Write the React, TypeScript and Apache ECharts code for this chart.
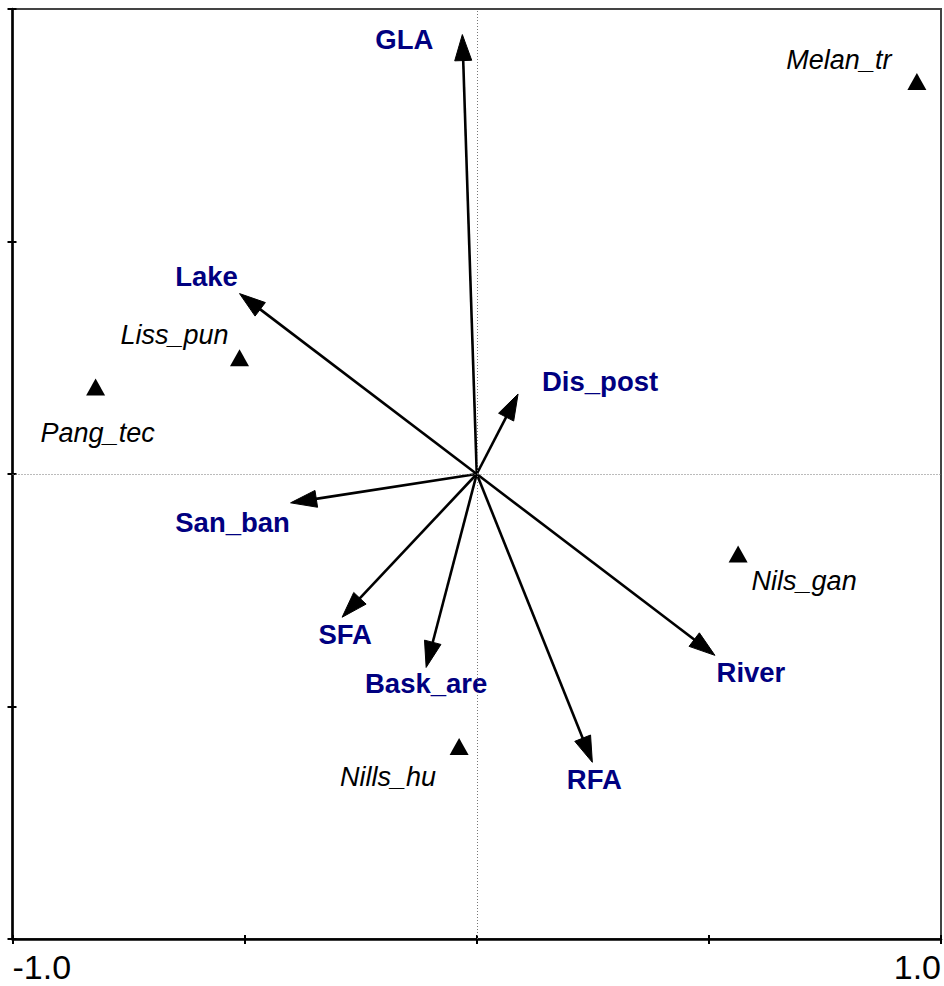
import React, { useEffect, useRef } from "react";
import * as echarts from "echarts";

// Environmental variables (arrows)
const envNames = ["GLA", "Lake", "Dis_post", "San_ban", "SFA", "Bask_are", "RFA", "River"];
const envX = [-0.031, -0.511, 0.089, -0.401, -0.29, -0.109, 0.249, 0.513];
const envY = [0.945, 0.388, 0.172, -0.062, -0.308, -0.416, -0.62, -0.39];

// Species (triangles)
const spNames = ["Melan_tr", "Liss_pun", "Pang_tec", "Nils_gan", "Nills_hu"];
const spX = [0.948, -0.511, -0.821, 0.563, -0.038];
const spY = [0.844, 0.25, 0.187, -0.172, -0.586];

// Axis tick labels
const axisMin = -1;
const axisMax = 1;
const axisStep = 0.5;
const xTickLabels: Record<string, string> = { "-1": "-1.0", "1": "1.0" };

// label placement (pixel offsets relative to point) — style only
const envLabelOffset: [number, number][] = [
  [-58, 5], [-33, -17], [82, -13], [-58, 20], [3, 17], [0, 16], [2, 17], [36, 17],
];
const spLabelOffset: [number, number][] = [
  [-78, -22], [-65, -23], [2, 46], [66, 27], [-71, 31],
];

const FONT = "'Liberation Sans', Arial, Helvetica, sans-serif";

export default function App() {
  const ref = useRef<HTMLDivElement>(null);
  useEffect(() => {
    if (!ref.current) return;
    const chart = echarts.init(ref.current, null, { renderer: "svg" });
    const envData = envNames.map((n, i) => [envX[i], envY[i], i]);
    const spData = spNames.map((n, i) => ({
      value: [spX[i], spY[i]],
      name: n,
      label: { offset: spLabelOffset[i] },
    }));
    const baseAxis = {
      type: "value",
      min: axisMin,
      max: axisMax,
      interval: axisStep,
      splitLine: { show: false },
    };
    chart.setOption({
      animation: false,
      backgroundColor: "#ffffff",
      grid: {
        left: 12.5,
        right: 2.5,
        top: 9,
        bottom: 47,
        show: true,
        borderColor: "#444",
        borderWidth: 2,
      },
      xAxis: [
        {
          ...baseAxis,
          position: "bottom",
          axisLine: { show: true, onZero: false, lineStyle: { color: "#000", width: 2.5 } },
          axisTick: { show: true, inside: false, length: 5, lineStyle: { color: "#000", width: 2 } },
          axisLabel: {
            show: true,
            margin: 11,
            fontSize: 34,
            fontFamily: FONT,
            color: "#000",
            alignMinLabel: "left",
            alignMaxLabel: "right",
            formatter: (v: number) => xTickLabels[String(v)] ?? "",
          },
        },
        {
          ...baseAxis,
          position: "bottom",
          axisLine: { show: false, onZero: false },
          axisTick: { show: true, inside: true, length: 4, lineStyle: { color: "#000", width: 2 } },
          axisLabel: { show: false },
        },
      ],
      yAxis: [
        {
          ...baseAxis,
          position: "left",
          axisLine: { show: true, onZero: false, lineStyle: { color: "#000", width: 2.5 } },
          axisTick: { show: true, inside: false, length: 5, lineStyle: { color: "#000", width: 2 } },
          axisLabel: { show: false },
        },
        {
          ...baseAxis,
          position: "left",
          axisLine: { show: false, onZero: false },
          axisTick: { show: true, inside: true, length: 4, lineStyle: { color: "#000", width: 2 } },
          axisLabel: { show: false },
        },
      ],
      series: [
        {
          type: "custom",
          name: "env",
          xAxisIndex: 0,
          yAxisIndex: 0,
          clip: false,
          silent: true,
          encode: { x: 0, y: 1 },
          data: envData,
          markLine: {
            silent: true,
            symbol: "none",
            label: { show: false },
            lineStyle: { type: [1, 2], color: "#777", width: 1 },
            data: [{ xAxis: 0 }, { yAxis: 0 }],
          },
          renderItem: (params: any, api: any) => {
            const idx = api.value(2);
            const o = api.coord([0, 0]);
            const t = api.coord([api.value(0), api.value(1)]);
            const dx = t[0] - o[0];
            const dy = t[1] - o[1];
            const len = Math.sqrt(dx * dx + dy * dy);
            const ux = dx / len;
            const uy = dy / len;
            const headLen = 26;
            const hw = 8.5;
            const bx = t[0] - ux * headLen;
            const by = t[1] - uy * headLen;
            const nx = -uy;
            const ny = ux;
            const off = envLabelOffset[idx];
            return {
              type: "group",
              children: [
                {
                  type: "line",
                  shape: { x1: o[0], y1: o[1], x2: bx + ux * 2, y2: by + uy * 2 },
                  style: { stroke: "#000", lineWidth: 2.6 },
                },
                {
                  type: "polygon",
                  shape: {
                    points: [
                      [t[0], t[1]],
                      [bx + nx * hw, by + ny * hw],
                      [bx - nx * hw, by - ny * hw],
                    ],
                  },
                  style: { fill: "#000", stroke: "#000", lineWidth: 1 },
                },
                {
                  type: "text",
                  x: t[0] + off[0],
                  y: t[1] + off[1],
                  style: {
                    text: envNames[idx],
                    fill: "#000080",
                    font: `bold 27.5px ${FONT}`,
                    align: "center",
                    verticalAlign: "middle",
                  },
                },
              ],
            };
          },
        },
        {
          type: "scatter",
          name: "species",
          xAxisIndex: 0,
          yAxisIndex: 0,
          symbol: "triangle",
          symbolSize: [19, 17],
          itemStyle: { color: "#000", opacity: 1 },
          clip: false,
          silent: true,
          data: spData,
          label: {
            show: true,
            position: "inside",
            formatter: (p: any) => p.name,
            color: "#000",
            opacity: 1,
            fontSize: 27,
            fontStyle: "italic",
            fontFamily: FONT,
            align: "center",
            verticalAlign: "middle",
          },
        },
      ],
    });
    return () => chart.dispose();
  }, []);
  return (
    <div
      ref={ref}
      style={{ position: "absolute", left: 0, top: 0, width: 944, height: 986 }}
    />
  );
}
